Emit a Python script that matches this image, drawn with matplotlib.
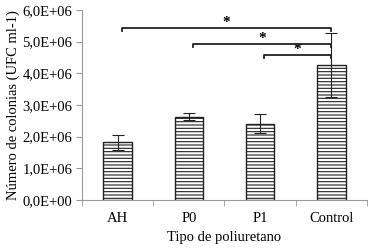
import matplotlib
matplotlib.use("Agg")
import matplotlib.pyplot as plt
import numpy as np

# datos
categorias = ["AH", "P0", "P1", "Control"]
medias = [1.82e6, 2.63e6, 2.40e6, 4.26e6]
errores = [0.23e6, 0.10e6, 0.30e6, 1.00e6]
# comparaciones significativas: (indice inicio, indice fin, altura)
comparaciones = [(0, 3, 5.42e6), (1, 3, 4.92e6), (2, 3, 4.57e6)]
yticks = np.arange(0, 6.01e6, 1e6)
ytick_labels = ["0,0E+00", "1,0E+06", "2,0E+06", "3,0E+06", "4,0E+06", "5,0E+06", "6,0E+06"]

plt.rcParams['font.family'] = ['Liberation Serif', 'DejaVu Serif']
plt.rcParams['hatch.linewidth'] = 0.8

fig = plt.figure(figsize=(3.71, 2.48), dpi=100)
ax = fig.add_axes([0.221, 0.194, 0.768, 0.766])

x = np.arange(len(categorias))
ax.bar(x, medias, width=0.4, color="white", edgecolor="#222222", linewidth=1.0,
       hatch="-----", zorder=2)
ax.errorbar(x, medias, yerr=errores, fmt="none", ecolor="#222222",
            elinewidth=0.8, capsize=4, capthick=0.8, zorder=3)

# corchetes de significancia
for i, j, h in comparaciones:
    xi = x[i] + 0.06
    xj = x[j] - 0.01
    ax.plot([xi, xi, xj, xj], [h - 0.1e6, h, h, h - 0.1e6], color="#222222",
            linewidth=1.3, zorder=4, clip_on=False)
    ax.text((xi + xj) / 2, h - 0.02e6, "*", ha="center", va="bottom",
            fontsize=11, fontweight="bold")

ax.set_xlim(-0.5, 3.5)
ax.set_ylim(0, 6e6)
ax.set_yticks(yticks)
ax.set_yticklabels(ytick_labels)
ax.set_xticks(x)
ax.set_xticklabels(categorias)
ax.set_xticks(np.arange(-0.5, 3.6, 1), minor=True)
ax.tick_params(axis="x", which="major", length=0, labelsize=10.5, pad=9)
ax.tick_params(axis="x", which="minor", length=4, color="#999999")
ax.tick_params(axis="y", length=4, color="#999999", labelsize=10.5, pad=3)

for s in ["top", "right"]:
    ax.spines[s].set_visible(False)
ax.spines["left"].set_color("#999999")
ax.spines["bottom"].set_color("#999999")

ax.set_ylabel("Número de colonias (UFC ml-1)", fontsize=10.5, labelpad=2)
ax.set_xlabel("Tipo de poliuretano", fontsize=10.5, labelpad=4)

fig.savefig("out.png", dpi=100)
